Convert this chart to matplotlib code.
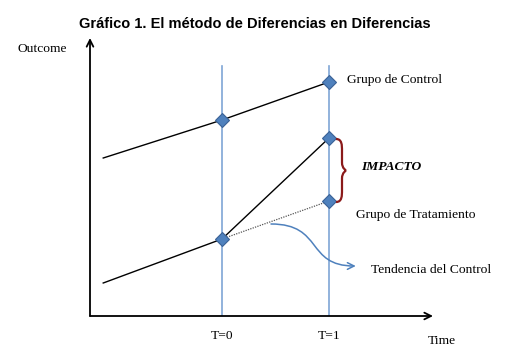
import matplotlib
matplotlib.use("Agg")
import matplotlib.pyplot as plt
from matplotlib.path import Path
from matplotlib.patches import PathPatch, FancyArrowPatch

# Data
times = [-1.11, 0.0, 1.0]                 # start, T=0, T=1
control = [15.8, 19.6, 23.4]
treatment = [3.3, 7.7, 17.8]
counterfactual = [7.7, 11.5]              # at T=0, T=1 (control trend)
tick_positions = [0.0, 1.0]
tick_labels = ["T=0", "T=1"]

BLUE = "#4F81BD"
BLUE_LINE = "#7FA6D6"
RED = "#8B1A1A"

fig = plt.figure(figsize=(5.05, 3.57), dpi=100)
W, H = 505, 357
x0p, x1p, y0p, y1p = 90, 433, 316, 38
ax = fig.add_axes([x0p / W, (H - y0p) / H, (x1p - x0p) / W, (y0p - y1p) / H])
xmin, xmax = (90 - 222) / 107, (433 - 222) / 107
ymin, ymax = 0, (316 - 38) / 10
ax.set_xlim(xmin, xmax)
ax.set_ylim(ymin, ymax)
ax.axis("off")

serif = "Liberation Serif"

# Axes arrows
ax.annotate("", xy=(1, 0), xytext=(0, 0), xycoords="axes fraction",
            arrowprops=dict(arrowstyle="->", lw=1.3, color="black",
                            shrinkA=0, shrinkB=0, mutation_scale=12))
ax.annotate("", xy=(0, 1), xytext=(0, 0), xycoords="axes fraction",
            arrowprops=dict(arrowstyle="->", lw=1.3, color="black",
                            shrinkA=0, shrinkB=0, mutation_scale=12))

# Vertical time lines
vtop = (316 - 66) / 10
for t in tick_positions:
    ax.plot([t, t], [0, vtop], color=BLUE_LINE, lw=1.2, zorder=1)

# Control and treatment lines
ax.plot(times, control, color="black", lw=1.0, zorder=2)
ax.plot(times, treatment, color="black", lw=1.0, zorder=2)
ax.plot(tick_positions, counterfactual, color="#555555", lw=0.9,
        linestyle=(0, (1, 1)), zorder=2)

# Diamonds
mk = dict(linestyle="none", marker="D", markersize=7, color=BLUE,
          markeredgecolor="#3A6296", markeredgewidth=0.8, zorder=3)
ax.plot(tick_positions, control[1:], **mk)
ax.plot(tick_positions, treatment[1:], **mk)
ax.plot([tick_positions[1]], [counterfactual[1]], **mk)

# Curly brace between treatment T1 and counterfactual T1
t1 = tick_positions[1]
top, bot = treatment[2] - 0.1, counterfactual[1] - 0.1
mid = (top + bot) / 2
dx = 1 / 107
xa, xb, xc = t1 + 7 * dx, t1 + 13 * dx, t1 + 17 * dx
verts = [
    (xa, top), (xb, top), (xb, top - 0.6), (xb, top - 1.2),
    (xb, mid + 0.8),
    (xb, mid + 0.2), (xc, mid), (xc, mid),
    (xc, mid), (xb, mid - 0.2), (xb, mid - 0.8),
    (xb, bot + 1.2),
    (xb, bot + 0.6), (xb, bot), (xa, bot),
]
codes = [Path.MOVETO, Path.CURVE4, Path.CURVE4, Path.CURVE4,
         Path.LINETO,
         Path.CURVE4, Path.CURVE4, Path.CURVE4,
         Path.CURVE4, Path.CURVE4, Path.CURVE4,
         Path.LINETO,
         Path.CURVE4, Path.CURVE4, Path.CURVE4]
ax.add_patch(PathPatch(Path(verts, codes), facecolor="none", edgecolor=RED, lw=1.6, zorder=3))

# Curved arrow for control trend
ps = (0.458, 9.2)
pe = (1.25, 5.0)
arr_path = Path([ps, (0.95, 9.2), (0.78, 5.0), pe],
                [Path.MOVETO, Path.CURVE4, Path.CURVE4, Path.CURVE4])
ax.add_patch(FancyArrowPatch(path=arr_path, arrowstyle="->", color=BLUE,
                             lw=1.1, mutation_scale=12, zorder=3))

# Labels
fs = 9.7
ax.text(1.17, 23.6, "Grupo de Control", family=serif, fontsize=fs,
        ha="left", va="center")
ax.text(1.25, 10.1, "Grupo de Tratamiento", family=serif, fontsize=fs,
        ha="left", va="center")
ax.text(1.393, 4.6, "Tendencia del Control", family=serif, fontsize=fs,
        ha="left", va="center")
ax.text(1.30, 14.9, "IMPACTO", family=serif, fontsize=fs, fontweight="bold",
        style="italic", ha="left", va="center")
for t, lab in zip(tick_positions, tick_labels):
    ax.text(t, -2.0, lab, family=serif, fontsize=fs, ha="center", va="center")
ax.text(1.92, -2.5, "Time", family=serif, fontsize=fs, ha="left", va="center", clip_on=False)

fig.text(17 / W, 1 - 49 / H, "Outcome", family=serif, fontsize=fs, ha="left", va="center")
fig.text(255 / W, 1 - 24 / H, "Gráfico 1. El método de Diferencias en Diferencias",
         family="Liberation Sans", fontsize=10.5, fontweight="bold", ha="center", va="center")

fig.savefig("out.png", dpi=100)
